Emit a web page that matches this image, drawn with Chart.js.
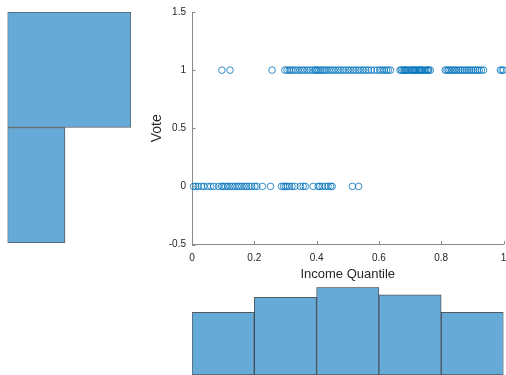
<!DOCTYPE html>
<html>
<head>
<meta charset="utf-8">
<script src="https://cdn.jsdelivr.net/npm/chart.js@4/dist/chart.umd.min.js"></script>
<style>
  html, body { margin: 0; padding: 0; background: #fff; width: 506px; height: 375px; overflow: hidden; }
  canvas { position: absolute; }
  #scatter { left: 140px; top: 0px; }
  #voteHist { left: 0px; top: 0px; }
  #incomeHist { left: 187px; top: 282px; }
</style>
</head>
<body>
<canvas id="voteHist" width="140" height="260"></canvas>
<canvas id="scatter" width="366" height="285"></canvas>
<canvas id="incomeHist" width="319" height="100"></canvas>
<script>
// Income quantile of respondents who voted 0
const incomeVote0 = [
  0.005, 0.012, 0.02, 0.03, 0.038, 0.05, 0.06, 0.07, 0.085, 0.095, 0.1, 0.108,
  0.115, 0.122, 0.13, 0.138, 0.145, 0.152, 0.16, 0.168, 0.175, 0.183, 0.192,
  0.201, 0.208, 0.226, 0.252, 0.287, 0.294, 0.3, 0.306, 0.313, 0.321, 0.33,
  0.348, 0.357, 0.364, 0.389,
  0.405, 0.41, 0.418, 0.428, 0.437, 0.445, 0.45, 0.515, 0.535
];
// Income quantile of respondents who voted 1
const incomeVote1 = [
  0.096, 0.122,
  0.257, 0.298, 0.305, 0.312, 0.318, 0.325, 0.332, 0.34, 0.347, 0.355, 0.362,
  0.37, 0.378, 0.386, 0.394, 0.398,
  0.402, 0.408, 0.414, 0.42, 0.426, 0.432, 0.44, 0.447, 0.455, 0.462, 0.47,
  0.478, 0.486, 0.494, 0.502, 0.51, 0.518, 0.526, 0.534, 0.542, 0.55, 0.558,
  0.566, 0.575, 0.585, 0.595,
  0.603, 0.61, 0.617, 0.624, 0.63, 0.637, 0.668, 0.672, 0.677, 0.681, 0.684,
  0.686, 0.69, 0.695, 0.7, 0.704, 0.709, 0.712, 0.713, 0.718, 0.722, 0.727,
  0.731, 0.733, 0.736, 0.74, 0.745, 0.75, 0.755, 0.758, 0.76, 0.765,
  0.813, 0.818, 0.823, 0.828, 0.834, 0.84, 0.845, 0.85, 0.856, 0.862, 0.868,
  0.874, 0.88, 0.886, 0.892, 0.898, 0.904, 0.91, 0.916, 0.922, 0.929, 0.936,
  0.99, 0.995, 1.0
];
// Marginal histogram of Vote (bins centred on 1 and 0)
const voteBins = ['1', '0'];
const voteCounts = [101, 47];
// Marginal histogram of income quantile (5 bins of width 0.2)
const incomeBins = ['0-0.2', '0.2-0.4', '0.4-0.6', '0.6-0.8', '0.8-1'];
const incomeCounts = [25, 31, 35, 32, 25];
// Axis ticks
const xTicks = [0, 0.2, 0.4, 0.6, 0.8, 1];
const yTicks = [-0.5, 0, 0.5, 1, 1.5];

const BLUE = '#0072BD';
const FILL = '#66AAD7';
const EDGE = 'rgba(25,35,45,0.75)';
const TEXT = '#262626';
const AXIS = '#8a8a8a';
const FONT = '"Liberation Sans", Arial, Helvetica, sans-serif';

// Short tick marks pointing into the plot area
const inwardTicks = {
  id: 'inwardTicks',
  afterDatasetsDraw(chart) {
    const { ctx, scales: { x, y } } = chart;
    const len = 3.5;
    ctx.save();
    ctx.strokeStyle = AXIS;
    ctx.lineWidth = 1;
    ctx.beginPath();
    xTicks.forEach(v => {
      const px = Math.round(x.getPixelForValue(v)) + 0.5;
      ctx.moveTo(px, y.bottom);
      ctx.lineTo(px, y.bottom - len);
    });
    yTicks.forEach(v => {
      const py = Math.round(y.getPixelForValue(v)) + 0.5;
      ctx.moveTo(x.left, py);
      ctx.lineTo(x.left + len, py);
    });
    ctx.stroke();
    ctx.restore();
  }
};

const points0 = incomeVote0.map(v => ({ x: v, y: 0 }));
const points1 = incomeVote1.map(v => ({ x: v, y: 1 }));

new Chart(document.getElementById('scatter'), {
  type: 'scatter',
  data: {
    datasets: [{
      data: points0.concat(points1),
      pointStyle: 'circle',
      pointRadius: 3.3,
      pointHoverRadius: 3.3,
      backgroundColor: 'rgba(0,0,0,0)',
      borderColor: BLUE,
      borderWidth: 0.8,
      clip: 6
    }]
  },
  options: {
    responsive: false,
    animation: false,
    events: [],
    layout: { autoPadding: false, padding: { left: 0, top: 12, right: 2.5, bottom: 0 } },
    plugins: { legend: { display: false }, tooltip: { enabled: false } },
    scales: {
      x: {
        type: 'linear', min: 0, max: 1,
        afterFit(scale) { scale.height = 40.5; scale.paddingLeft = 0; scale.paddingRight = 0; },
        afterBuildTicks(scale) { scale.ticks = xTicks.map(v => ({ value: v })); },
        grid: { display: false, drawTicks: false },
        border: { display: true, color: AXIS, width: 1 },
        ticks: { color: TEXT, font: { family: FONT, size: 10 }, padding: 8, maxRotation: 0,
                 callback: v => String(v) },
        title: { display: true, text: 'Income Quantile', color: TEXT,
                 font: { family: FONT, size: 13 }, padding: { top: 0, bottom: 3.2 } }
      },
      y: {
        type: 'linear', min: -0.5, max: 1.5,
        afterFit(scale) { scale.width = 52; scale.paddingTop = 0; scale.paddingBottom = 0; },
        afterBuildTicks(scale) { scale.ticks = yTicks.map(v => ({ value: v })); },
        grid: { display: false, drawTicks: false },
        border: { display: true, color: AXIS, width: 1 },
        ticks: { color: TEXT, font: { family: FONT, size: 10 }, padding: 6,
                 callback: v => String(v) },
        title: { display: true, text: 'Vote', color: TEXT,
                 font: { family: FONT, size: 14 }, padding: { top: 8.6, bottom: 0 } }
      }
    }
  },
  plugins: [inwardTicks]
});

new Chart(document.getElementById('voteHist'), {
  type: 'bar',
  data: {
    labels: voteBins,
    datasets: [{
      data: voteCounts,
      backgroundColor: FILL,
      borderColor: EDGE,
      borderWidth: 1,
      borderSkipped: false,
      barPercentage: 1,
      categoryPercentage: 1
    }]
  },
  options: {
    indexAxis: 'y',
    responsive: false,
    animation: false,
    events: [],
    layout: { padding: { left: 7.5, top: 12, right: 9, bottom: 17 } },
    plugins: { legend: { display: false }, tooltip: { enabled: false } },
    scales: {
      x: { type: 'linear', min: 0, max: voteCounts[0], display: false },
      y: { type: 'category', display: false }
    }
  }
});

new Chart(document.getElementById('incomeHist'), {
  type: 'bar',
  data: {
    labels: incomeBins,
    datasets: [{
      data: incomeCounts,
      backgroundColor: FILL,
      borderColor: EDGE,
      borderWidth: 1,
      borderSkipped: false,
      barPercentage: 1,
      categoryPercentage: 1
    }]
  },
  options: {
    responsive: false,
    animation: false,
    events: [],
    layout: { padding: { left: 5, top: 5.3, right: 2.5, bottom: 7 } },
    plugins: { legend: { display: false }, tooltip: { enabled: false } },
    scales: {
      x: { type: 'category', display: false },
      y: { type: 'linear', min: 0, max: Math.max(...incomeCounts), display: false }
    }
  }
});
</script>
</body>
</html>
